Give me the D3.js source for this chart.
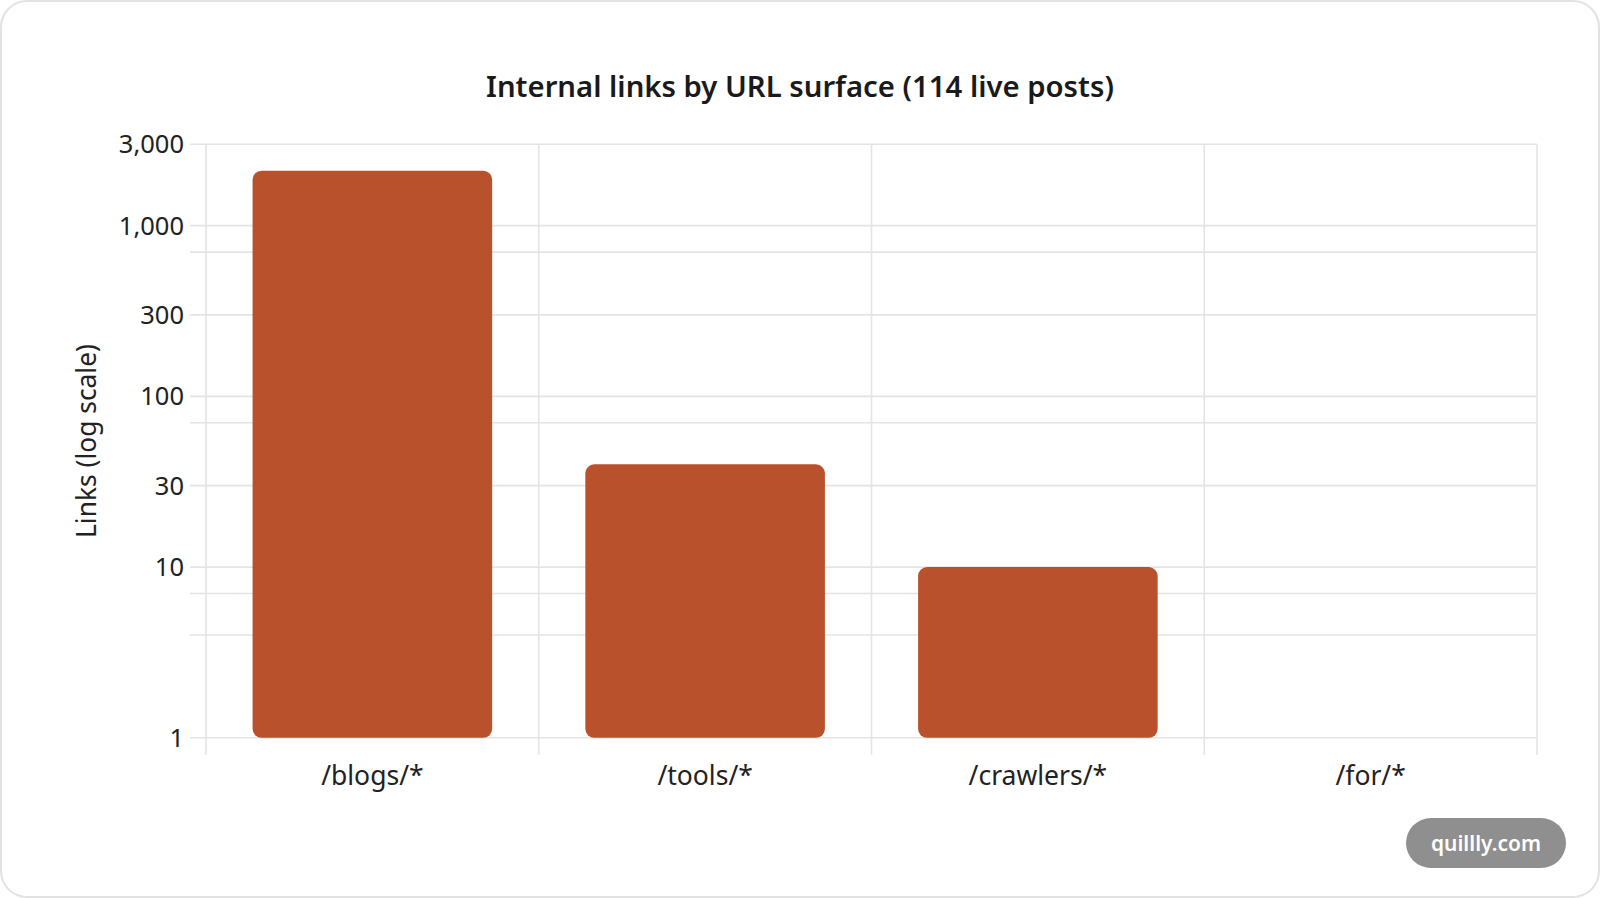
<!DOCTYPE html>
<html><head><meta charset="utf-8">
<script src="https://cdn.jsdelivr.net/npm/d3@7"></script>
<style>
html,body{margin:0;padding:0;background:#fff;}
svg{display:block;font-family:"Noto Sans","Open Sans",sans-serif;}
</style></head>
<body><svg id="c" width="1600" height="898"></svg>
<script>
const categories = ["/blogs/*", "/tools/*", "/crawlers/*", "/for/*"];
const links = [2100, 40, 10, 0];
const gridValues = [1, 4, 7, 10, 30, 70, 100, 300, 700, 1000, 3000];
const tickLabels = [1, 10, 30, 100, 300, 1000, 3000];
const titleText = "Internal links by URL surface (114 live posts)";
const yTitle = "Links (log scale)";
const watermark = "quillly.com";

const svg = d3.select("#c");
const W = 1600, H = 898;
const m = {left: 206, right: 1537, top: 144.2, bottom: 737.8};

function fit(sel, target) {
  const n = sel.node();
  const fs = parseFloat(sel.attr("font-size"));
  const w = n.getComputedTextLength();
  sel.attr("font-size", (fs * target / w).toFixed(2));
}

// card
svg.append("rect").attr("x", 1).attr("y", 1).attr("width", W - 2).attr("height", H - 2)
  .attr("rx", 26).attr("fill", "#fff").attr("stroke", "#e2e2e2").attr("stroke-width", 2);

const x = d3.scaleBand().domain(categories).range([m.left, m.right]).paddingInner(0).paddingOuter(0);
const y = d3.scaleLog().domain([1, 3000]).range([m.bottom, m.top]);

const grid = svg.append("g");
grid.selectAll("line.h").data(gridValues).join("line")
  .attr("x1", m.left - 16).attr("x2", m.right)
  .attr("y1", d => y(d)).attr("y2", d => y(d))
  .attr("stroke", "#e4e4e4").attr("stroke-width", 1.6);
const vx = categories.map(c => x(c)).concat([x(categories[categories.length - 1]) + x.bandwidth()]);
grid.selectAll("line.v").data(vx).join("line")
  .attr("x1", d => d).attr("x2", d => d)
  .attr("y1", m.top).attr("y2", m.bottom + 17)
  .attr("stroke", "#e4e4e4").attr("stroke-width", 1.6);

const bw = x.bandwidth() * 0.72;
svg.append("g").selectAll("rect").data(categories.map((c, i) => ({c, v: links[i]})).filter(d => d.v > 1))
  .join("rect")
  .attr("x", d => x(d.c) + (x.bandwidth() - bw) / 2)
  .attr("y", d => y(d.v))
  .attr("width", bw)
  .attr("height", d => y(1) - y(d.v))
  .attr("rx", 9)
  .attr("fill", "#b9512d");

const fmt = d3.format(",");
svg.append("g").selectAll("text").data(tickLabels).join("text")
  .attr("x", m.left - 22).attr("y", d => y(d))
  .attr("dy", "0.35em").attr("text-anchor", "end")
  .attr("font-size", 25.5).attr("fill", "#222")
  .text(d => fmt(d));

svg.append("g").selectAll("text").data(categories).join("text")
  .attr("x", d => x(d) + x.bandwidth() / 2).attr("y", 776)
  .attr("dy", "0.35em").attr("text-anchor", "middle")
  .attr("font-size", 26.5).attr("fill", "#222")
  .text(d => d);

const yt = svg.append("text")
  .attr("transform", `translate(87,${(m.top + m.bottom) / 2}) rotate(-90)`)
  .attr("dy", "0.35em").attr("text-anchor", "middle")
  .attr("font-size", 24.5).attr("fill", "#222").text(yTitle);
fit(yt, 194);

const t = svg.append("text").attr("x", 800).attr("y", 87).attr("dy", "0.35em")
  .attr("text-anchor", "middle").attr("font-weight", 600)
  .attr("font-size", 30).attr("fill", "#1a1a1a").text(titleText);
fit(t, 628);

svg.append("rect").attr("x", 1406).attr("y", 818).attr("width", 160).attr("height", 50)
  .attr("rx", 25).attr("fill", "#8f8f8f");
const wm = svg.append("text").attr("x", 1486).attr("y", 844).attr("dy", "0.35em")
  .attr("text-anchor", "middle").attr("font-weight", 600)
  .attr("font-size", 21).attr("fill", "#fff").text(watermark);
fit(wm, 110);
</script></body></html>
